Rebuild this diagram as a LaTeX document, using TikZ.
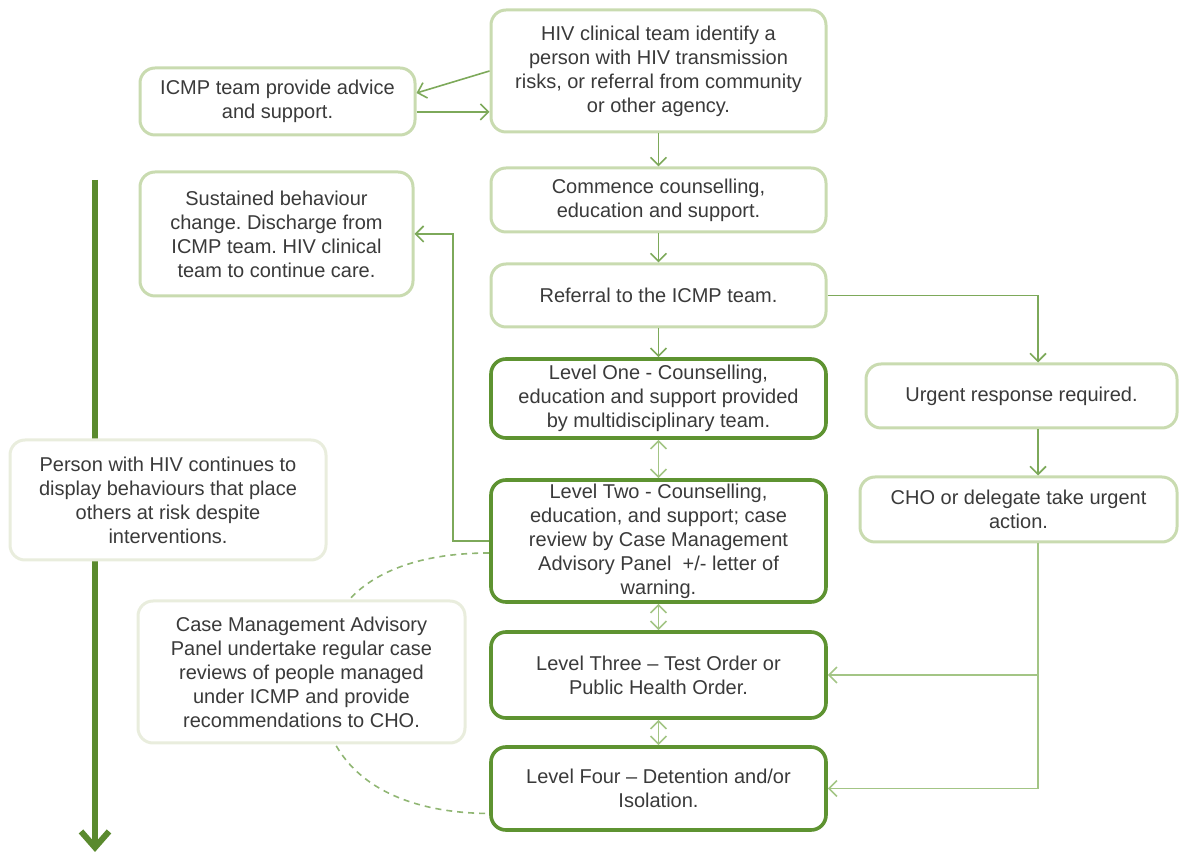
\documentclass[tikz,border=0pt]{standalone}
\usepackage{fontspec}
\setmainfont{Liberation Sans}
\usetikzlibrary{arrows.meta,backgrounds}
\frenchspacing
\definecolor{lightc}{HTML}{C9DBB0}
\definecolor{darkc}{HTML}{5E9331}
\definecolor{palec}{HTML}{E9EDDD}
\definecolor{arrc}{HTML}{7DA95A}
\definecolor{arrlight}{HTML}{A3C585}
\definecolor{bigc}{HTML}{5A8A2E}
\definecolor{txtc}{HTML}{3A3A3A}
\begin{document}
\begin{tikzpicture}[x=0.5pt,y=-0.5pt,
  every node/.style={font=\fontsize{10pt}{12pt}\selectfont, text=txtc, align=center, inner sep=0pt},
  box/.style={draw, fill=white, rounded corners=7.5pt},
  lbox/.style={box, draw=lightc, line width=1.5pt},
  dbox/.style={box, draw=darkc, line width=1.8pt},
  pbox/.style={box, draw=palec, line width=1.5pt},
  arr/.style={draw=arrc, line width=0.8pt, -{Straight Barb[length=4pt,width=8pt]}},
  darr/.style={draw=arrlight, line width=0.8pt, {Straight Barb[length=4pt,width=8pt]}-{Straight Barb[length=4pt,width=8pt]}},
  bigarr/.style={draw=bigc, line width=3pt, -{Straight Barb[length=8pt,width=14pt,line width=3pt]}},
  dashline/.style={draw=arrc!85, line width=0.8pt, dash pattern=on 3pt off 2.5pt}
]
\useasboundingbox (0,0) rectangle (1179,854);

\node[lbox, minimum width=167.5pt, minimum height=61pt] (b1) at (658.5,71) {HIV clinical team identify a\\ person with HIV transmission\\ risks, or referral from community\\ or other agency.};
\node[lbox, minimum width=137.5pt, minimum height=33.5pt] (b2) at (277.5,101.5) {ICMP team provide advice\\ and support.};
\node[lbox, minimum width=167.5pt, minimum height=32pt] (b3) at (658.5,200) {Commence counselling,\\ education and support.};
\node[lbox, minimum width=167.5pt, minimum height=31.5pt] (b4) at (658.5,295.5) {Referral to the ICMP team.};
\node[dbox, minimum width=167.5pt, minimum height=39.5pt] (b5) at (658.5,398.5) {Level One - Counselling,\\ education and support provided\\ by multidisciplinary team.};
\node[dbox, minimum width=167.5pt, minimum height=61pt] (b6) at (658.5,541) {Level Two - Counselling,\\ education, and support; case\\ review by Case Management\\ Advisory Panel\ \ +/- letter of\\ warning.};
\node[dbox, minimum width=167.5pt, minimum height=43pt] (b7) at (658.5,675) {Level Three – Test Order or\\ Public Health Order.};
\node[dbox, minimum width=167.5pt, minimum height=41.5pt] (b8) at (658.5,788.5) {Level Four – Detention and/or\\ Isolation.};
\node[lbox, minimum width=136.5pt, minimum height=62pt] (b9) at (276.5,234) {Sustained behaviour\\ change. Discharge from\\ ICMP team. HIV clinical\\ team to continue care.};
\node[lbox, minimum width=155.5pt, minimum height=32pt] (b10) at (1021.5,396) {Urgent response required.};
\node[lbox, minimum width=158.5pt, minimum height=32.5pt] (b11) at (1018.5,509.5) {CHO or delegate take urgent\\ action.};
\node[pbox, minimum width=158pt, minimum height=60pt] (b12) at (168,500) {Person with HIV continues to\\ display behaviours that place\\ others at risk despite\\ interventions.};
\node[pbox, minimum width=163.5pt, minimum height=71pt] (b13) at (301.5,672) {Case Management Advisory\\ Panel undertake regular case\\ reviews of people managed\\ under ICMP and provide\\ recommendations to CHO.};

\begin{pgfonlayer}{background}
  \coordinate (bigs) at (95,180);
  \coordinate (bige) at (95,852);
  \draw[bigarr] (bigs) -- (bige);
  \coordinate (d1) at ([yshift=-6pt]b6.west);
  \coordinate (d2) at ([yshift=-12.5pt]b8.west);
  \coordinate (dm) at (320,680);
  \draw[dashline] (d1) .. controls (380,553) and (320,600) .. (dm)
                   .. controls (320,770) and (390,813) .. (d2);
\end{pgfonlayer}

% top connectors
\draw[arr] (b1.west) -- ([yshift=4.25pt]b2.east);
\coordinate (p2) at ([yshift=-5.25pt]b2.east);
\draw[arr] (p2) -- (p2 -| b1.west);
\draw[arr] (b1.south) -- (b3.north);
\draw[arr] (b3.south) -- (b4.north);
\draw[arr] (b4.south) -- (b5.north);
\draw[darr] (b5.south) -- (b6.north);
\draw[darr] (b6.south) -- (b7.north);
\draw[darr] (b7.south) -- (b8.north);

% right branch
\coordinate (t10) at ([xshift=8.25pt]b10.north);
\draw[arr] (b4.east) -| (t10);
\coordinate (s10) at ([xshift=8.25pt]b10.south);
\draw[arr] (s10) -- (s10 |- b11.north);
\coordinate (s11) at ([xshift=9.75pt]b11.south);
\draw[arr, draw=arrlight] (s11) |- (b8.east);
\coordinate (j7) at (s11 |- b7.east);
\draw[arr, draw=arrlight] (j7) -- (b7.east);

% back to sustained behaviour
\draw[arr] (b6.west) -- ++(-36,0) |- (b9.east);
\end{tikzpicture}
\end{document}
